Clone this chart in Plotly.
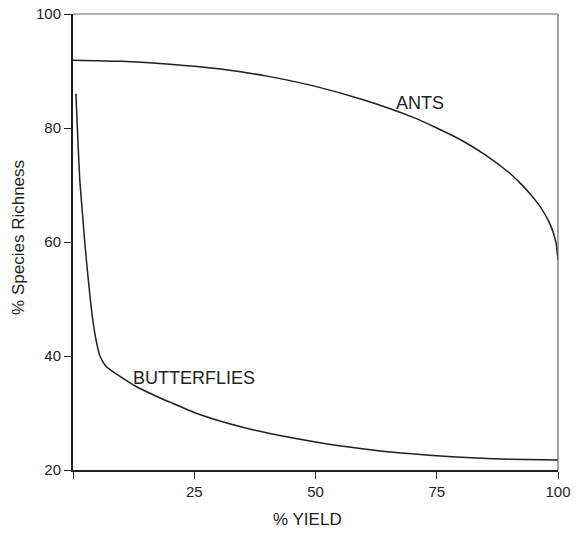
import plotly.graph_objects as go

# % yield vs % species richness
ants_x = [0, 10, 20, 30, 40, 50, 60, 70, 75, 80, 85, 90, 92, 94, 96, 97, 98, 99, 99.6, 100]
ants_y = [91.9, 91.7, 91.2, 90.4, 89.1, 87.3, 84.9, 81.9, 80.0, 77.9, 75.3, 72.1,
          70.5, 68.7, 66.6, 65.3, 63.8, 61.7, 59.8, 56.8]

butterflies_x = [0.6, 1.0, 1.4, 2.0, 2.5, 3.2, 3.9, 4.6, 5.6, 6.9, 9, 13.1, 17.3,
                 20, 25, 30.3, 35, 40.6, 50.9, 60, 66, 75, 83.2, 90, 100]
butterflies_y = [86, 78, 70.9, 64.5, 59.2, 53, 47.5, 43.5, 39.9, 38.1, 36.8, 34.6, 32.9,
                 31.9, 30.1, 28.6, 27.5, 26.4, 24.8, 23.7, 23.1, 22.5, 22.1, 21.9, 21.75]

x_ticks = [0, 25, 50, 75, 100]
x_tick_labels = ["", "25", "50", "75", "100"]
y_ticks = [20, 40, 60, 80, 100]

ink = "#231f20"
font = "Liberation Sans, Arial, sans-serif"

fig = go.Figure()
fig.add_trace(go.Scatter(x=ants_x, y=ants_y, mode="lines",
                         line=dict(color=ink, width=1.5, shape="spline", smoothing=0.6)))
fig.add_trace(go.Scatter(x=butterflies_x, y=butterflies_y, mode="lines",
                         line=dict(color=ink, width=1.5, shape="spline", smoothing=0.6)))

fig.add_annotation(x=71.5, y=84.4, text="ANTS", showarrow=False,
                   font=dict(size=18, color=ink, family=font))
fig.add_annotation(x=25, y=36.2, text="BUTTERFLIES", showarrow=False,
                   font=dict(size=18, color=ink, family=font))

# axis titles
fig.add_annotation(xref="paper", yref="paper", x=0.4845, y=0, yshift=-49,
                   text="% YIELD", showarrow=False, yanchor="middle",
                   font=dict(size=17, color=ink, family=font))
fig.add_annotation(xref="paper", yref="paper", x=0, y=0.509, xshift=-54,
                   text="% Species Richness", showarrow=False, textangle=-90,
                   xanchor="center", yanchor="middle",
                   font=dict(size=17, color=ink, family=font))

# thin grey frame on top and right
fig.add_shape(type="line", xref="paper", yref="paper", x0=0, x1=1, y0=1, y1=1,
              line=dict(color="#666666", width=1.2))
fig.add_shape(type="line", xref="paper", yref="paper", x0=1, x1=1, y0=0, y1=1,
              line=dict(color="#666666", width=1.2))

fig.update_layout(
    width=578, height=538,
    margin=dict(l=73, r=20, t=14, b=68),
    plot_bgcolor="white", paper_bgcolor="white",
    showlegend=False,
    font=dict(family=font, color=ink, size=15),
)
fig.update_xaxes(
    range=[0, 100], tickvals=x_ticks, ticktext=x_tick_labels, automargin=False,
    showgrid=False, zeroline=False, showline=True, linecolor=ink, linewidth=2,
    ticks="outside", ticklen=7, tickwidth=1, tickcolor=ink,
    tickfont=dict(size=15),
)
fig.update_yaxes(
    range=[20, 100], tickvals=y_ticks, automargin=False,
    showgrid=False, zeroline=False, showline=True, linecolor=ink, linewidth=2,
    ticks="outside", ticklen=7, tickwidth=1, tickcolor=ink,
    tickfont=dict(size=15),
)

fig.write_html("out.html", config={"displayModeBar": False},
               post_script="document.body.style.margin = '0';")
